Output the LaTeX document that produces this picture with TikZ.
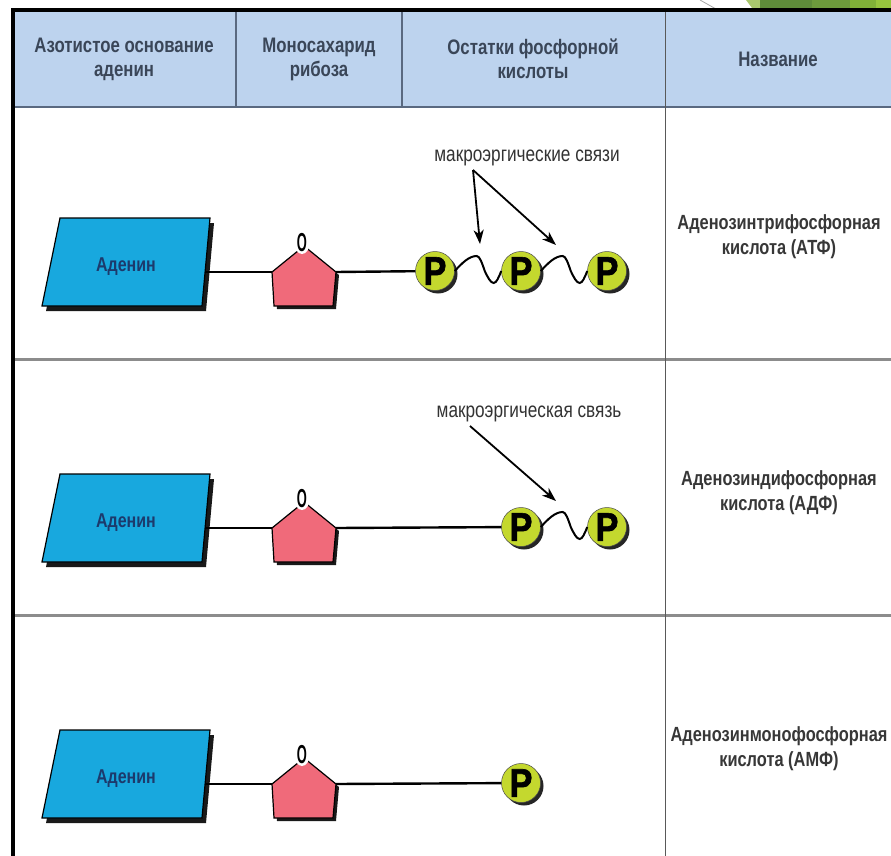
\documentclass[tikz,border=0pt]{standalone}
\usepackage{fontspec}
\setmainfont{Liberation Sans}[FakeStretch=0.8]
\newfontfamily\phosfont{Liberation Sans}[FakeStretch=0.86, BoldFeatures={FakeBold=1.5}]
\usetikzlibrary{arrows.meta, shadows}

\definecolor{headfill}{RGB}{189,211,238}
\definecolor{headink}{RGB}{58,70,88}
\definecolor{headrule}{RGB}{90,105,128}
\definecolor{nameink}{RGB}{55,55,55}
\definecolor{adeblue}{RGB}{24,168,222}
\definecolor{adeink}{RGB}{28,58,108}
\definecolor{ribpink}{RGB}{240,106,122}
\definecolor{phosgreen}{RGB}{196,216,46}
\definecolor{sepgray}{RGB}{140,140,140}
\definecolor{faceta}{RGB}{94,140,58}
\definecolor{facetb}{RGB}{108,154,60}
\definecolor{facetc}{RGB}{128,176,56}
\definecolor{facetd}{RGB}{150,196,62}
\definecolor{facetlight}{RGB}{170,200,110}

\tikzset{
    headtext/.style={font=\bfseries\fontsize{21}{24}\selectfont, text=headink, align=center},
    titletext/.style={font=\bfseries\fontsize{20.5}{25}\selectfont, text=nameink, align=center},
    adetext/.style={font=\bfseries\fontsize{20}{20}\selectfont, text=adeink},
    macrolabel/.style={font=\fontsize{21.5}{22}\selectfont, text=black!80},
    bond/.style={line width=2.4pt},
    wave/.style={line width=2pt},
    macroarrow/.style={-{Stealth[length=14pt,width=10pt,inset=4pt]}, line width=1.8pt},
    phos/.style={circle, fill=phosgreen, draw=black!70, line width=0.5pt, minimum size=39pt,
        inner sep=0pt, font=\phosfont\bfseries\fontsize{40}{40}\selectfont,
        drop shadow={shadow xshift=3pt, shadow yshift=-3pt, opacity=1, fill=black!85}},
    oxy/.style={font=\bfseries\fontsize{26}{26}\selectfont, inner sep=0pt}
}

\begin{document}
\begin{tikzpicture}[x=1pt, y=-1pt]
    % Definitions
    \def \rowstep{256}
    \useasboundingbox (0,0) rectangle (891,856);
    \fill[white] (0,0) rectangle (891,856);
    %%%
    %%% Slide decoration
    %%%
    \draw[black!35, line width=0.8pt] (700,0) -- (716,9);
    \fill[facetlight] (746,0) -- (760,0) -- (760,8) -- (752,8) -- cycle;
    \fill[faceta] (760,0) rectangle (812,8);
    \fill[facetb] (812,0) rectangle (850,8);
    \fill[facetc] (850,0) rectangle (876,8);
    \fill[facetd] (876,0) rectangle (891,8);
    %%%
    %%% Table
    %%%
    % Header background
    \fill[headfill] (15,12) rectangle (891,107);
    \draw[headrule, line width=1.5pt] (15,107) -- (891,107);
    \foreach \x in {236, 402}
    {
        \draw[headrule, line width=1.2pt] (\x,12) -- (\x,107);
    }
    % Row separators
    \foreach \y in {359, 615}
    {
        \draw[sepgray, line width=3pt] (15,\y) -- (891,\y);
    }
    \draw[black!65, line width=1pt] (665,12) -- (665,856);
    % Outer border
    \draw[black, line width=4pt] (13,856) -- (13,10) -- (891,10);
    % Header texts
    \node[headtext] (hade) at (124,59) {Азотистое основание\\аденин};
    \node[headtext] (hrib) at (319,59) {Моносахарид\\рибоза};
    \node[headtext] (hphos) at (533,59) {Остатки фосфорной\\кислоты};
    \node[headtext] (hname) at (778,59) {Название};
    %%%
    %%% Adenine and ribose
    %%%
    \foreach \r in {0,1,2}
    {
        \begin{scope}[shift={(0,{\r*\rowstep})}]
            % Adenine
            \fill[black!90] (64,223) -- (214,223) -- (206,311) -- (46,311) -- cycle;
            \filldraw[fill=adeblue, draw=black, line width=1.2pt] (60,218) -- (210,218) -- (202,306) -- (42,306) -- cycle;
            \node[adetext] (ade\r) at (126,267) {Аденин};
            % Ribose
            \fill[black!90] (307,249) -- (339,275) -- (336,309) -- (277,309) -- (275,275) -- cycle;
            \filldraw[fill=ribpink, draw=black, line width=1.2pt] (304,246) -- (336,272) -- (333,306) -- (274,306) -- (272,272) -- cycle;
            \fill[white] (302,243) ellipse (7.5 and 11);
            \node[oxy] (oxy\r) at (302,243) {\scalebox{0.62}[1]{O}};
            % Bond adenine - ribose
            \coordinate (adeE\r) at (205,272);
            \coordinate (ribW\r) at (272,272);
            \coordinate (ribE\r) at (336,272);
            \draw[bond] (adeE\r) -- (ribW\r);
        \end{scope}
    }
    %%%
    %%% Phosphates
    %%%
    \node[phos] (p0-1) at (435,271) {P};
    \node[phos] (p0-2) at (521,271) {P};
    \node[phos] (p0-3) at (607,271) {P};
    \node[phos] (p1-2) at (521,527) {P};
    \node[phos] (p1-3) at (607,527) {P};
    \node[phos] (p2-2) at (521,783) {P};
    % Ribose - phosphate
    \draw[bond] (ribE0) -- (p0-1);
    \draw[bond] (ribE1) -- (p1-2);
    \draw[bond] (ribE2) -- (p2-2);
    % Macroergic bonds
    \draw[wave] (p0-1.east) sin ++(22,-15) cos ++(8,15) sin ++(9,12) cos (p0-2.west);
    \draw[wave] (p0-2.east) sin ++(22,-15) cos ++(8,15) sin ++(9,12) cos (p0-3.west);
    \draw[wave] (p1-2.east) sin ++(22,-15) cos ++(8,15) sin ++(9,12) cos (p1-3.west);
    % Labels and arrows
    \node[macrolabel] (mac0) at (527,158) {макроэргические связи};
    \coordinate (src0) at (473,170);
    \coordinate (tip0a) at (480,244);
    \coordinate (tip0b) at (556,245);
    \draw[macroarrow] (src0) -- (tip0a);
    \draw[macroarrow] (src0) -- (tip0b);
    \node[macrolabel] (mac1) at (529,414) {макроэргическая связь};
    \coordinate (src1) at (470,426);
    \coordinate (tip1) at (556,501);
    \draw[macroarrow] (src1) -- (tip1);
    %%%
    %%% Names
    %%%
    \node[titletext] (atp) at (779,237) {Аденозинтрифосфорная\\кислота (АТФ)};
    \node[titletext] (adp) at (779,493) {Аденозиндифосфорная\\кислота (АДФ)};
    \node[titletext] (amp) at (779,749) {Аденозинмонофосфорная\\кислота (АМФ)};
\end{tikzpicture}
\end{document}
